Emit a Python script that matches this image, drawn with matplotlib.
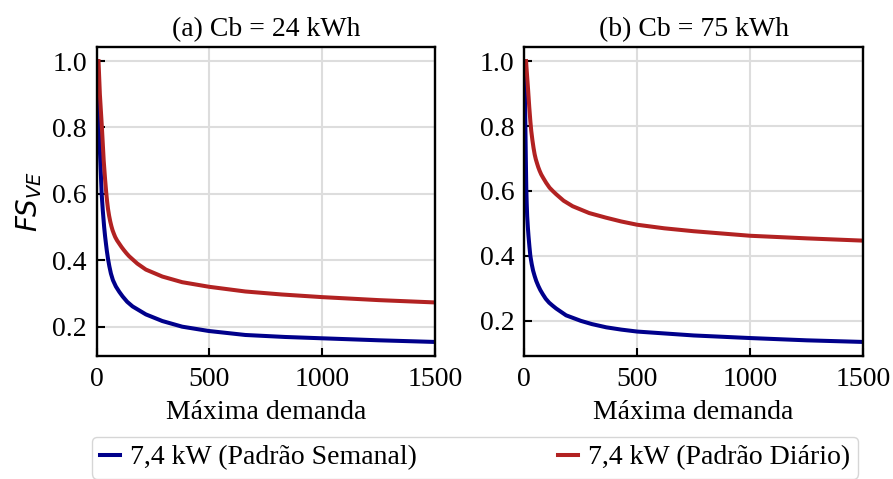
import matplotlib
matplotlib.use("Agg")
import matplotlib.pyplot as plt

plt.rcParams['font.family'] = ['Liberation Serif', 'DejaVu Serif']
plt.rcParams['mathtext.fontset'] = 'dejavusans'

# Panel titles and series labels
titles = ["(a) Cb = 24 kWh", "(b) Cb = 75 kWh"]
series_labels = ["7,4 kW (Padrão Semanal)", "7,4 kW (Padrão Diário)"]
xlabel = "Máxima demanda"
ylabel = r"$FS_{VE}$"

# (a) Cb = 24 kWh
a_weekly_x = [1, 5, 10, 13, 16, 19, 22, 27, 33, 37, 41, 45, 50, 56, 63, 72, 85, 100, 115, 135, 159,
              218, 291, 379, 497, 659, 835, 1000, 1250, 1500]
a_weekly_y = [1.0, 0.9, 0.8, 0.75, 0.7, 0.65, 0.6, 0.55, 0.5, 0.473, 0.45, 0.428, 0.405, 0.382, 0.36, 0.34,
              0.321, 0.305, 0.291, 0.275, 0.261, 0.237, 0.217, 0.2, 0.187, 0.175, 0.169, 0.165, 0.159, 0.154]
a_daily_x = [8, 14, 23, 31, 37, 42, 46, 50, 55, 60, 65, 70, 76, 82, 90, 100, 110, 120, 132, 144, 180,
             218, 291, 379, 500, 659, 820, 1000, 1250, 1500]
a_daily_y = [1.0, 0.9, 0.8, 0.7, 0.645, 0.605, 0.578, 0.555, 0.534, 0.517, 0.503, 0.491, 0.48, 0.47, 0.46,
             0.45, 0.44, 0.431, 0.421, 0.412, 0.39, 0.372, 0.351, 0.334, 0.32, 0.306, 0.297, 0.289, 0.28, 0.273]

# (b) Cb = 75 kWh
b_weekly_x = [2, 4, 6, 8, 10, 12, 14, 17, 20, 24, 28, 34, 40, 47, 54, 63, 72, 83, 96, 111, 126, 142,
              186, 251, 300, 364, 430, 500, 750, 1000, 1250, 1500]
b_weekly_y = [1.0, 0.9, 0.8, 0.7, 0.61, 0.56, 0.522, 0.488, 0.46, 0.428, 0.4, 0.375, 0.355, 0.338, 0.323,
              0.308, 0.295, 0.282, 0.268, 0.256, 0.247, 0.238, 0.217, 0.2, 0.19, 0.18, 0.173, 0.167,
              0.155, 0.147, 0.14, 0.135]
b_daily_x = [9, 13, 18, 23, 28, 32, 37, 42, 47, 52, 58, 63, 69, 76, 85, 98, 113, 127, 142, 175, 215,
             288, 361, 430, 500, 620, 750, 1000, 1250, 1500]
b_daily_y = [1.0, 0.96, 0.912, 0.86, 0.815, 0.785, 0.757, 0.733, 0.713, 0.698, 0.684, 0.673, 0.662,
             0.651, 0.64, 0.625, 0.61, 0.6, 0.59, 0.57, 0.553, 0.532, 0.518, 0.506, 0.496, 0.485,
             0.476, 0.462, 0.454, 0.447]

x_ticks = [0, 500, 1000, 1500]
y_ticks = [0.2, 0.4, 0.6, 0.8, 1.0]

blue = "#00008b"
red = "#b22222"
fs = 20

fig = plt.figure(figsize=(8.93, 4.79), dpi=100)
ax1 = fig.add_axes([0.1083, 0.2568, 0.3788, 0.645])
ax2 = fig.add_axes([0.5868, 0.2568, 0.3800, 0.645])

panels = [
    (ax1, a_weekly_x, a_weekly_y, a_daily_x, a_daily_y),
    (ax2, b_weekly_x, b_weekly_y, b_daily_x, b_daily_y),
]

lines = []
for i, (ax, wx, wy, dx, dy) in enumerate(panels):
    l1, = ax.plot(wx, wy, color=blue, lw=2.9, label=series_labels[0],
                  solid_joinstyle="round")
    l2, = ax.plot(dx, dy, color=red, lw=2.9, label=series_labels[1],
                  solid_joinstyle="round")
    if i == 0:
        lines = [l1, l2]
    ax.set_xlim(0, 1500)
    ax.set_xticks(x_ticks)
    ax.set_yticks(y_ticks)
    ax.grid(True, color="#dddddd", lw=1.5)
    ax.set_axisbelow(True)
    ax.tick_params(direction="in", length=6, width=1.5, labelsize=fs,
                   top=False, right=False)
    ax.tick_params(axis="x", pad=8)
    ax.tick_params(axis="y", pad=7)
    for sp in ax.spines.values():
        sp.set_linewidth(1.7)
    ax.set_title(titles[i], fontsize=fs, pad=8)
    ax.set_xlabel(xlabel, fontsize=fs, labelpad=6)

ax1.set_ylabel(ylabel, fontsize=fs, labelpad=6)

fig.legend(lines, series_labels, loc="upper left",
           bbox_to_anchor=(0.1027, -0.06, 0.8585, 0.1483), mode="expand",
           ncol=2, fontsize=fs, handlelength=0.72, handletextpad=0.36,
           borderaxespad=0.0, borderpad=0.3, frameon=True, fancybox=True,
           edgecolor="#cccccc")

fig.savefig("out.png", dpi=100)
